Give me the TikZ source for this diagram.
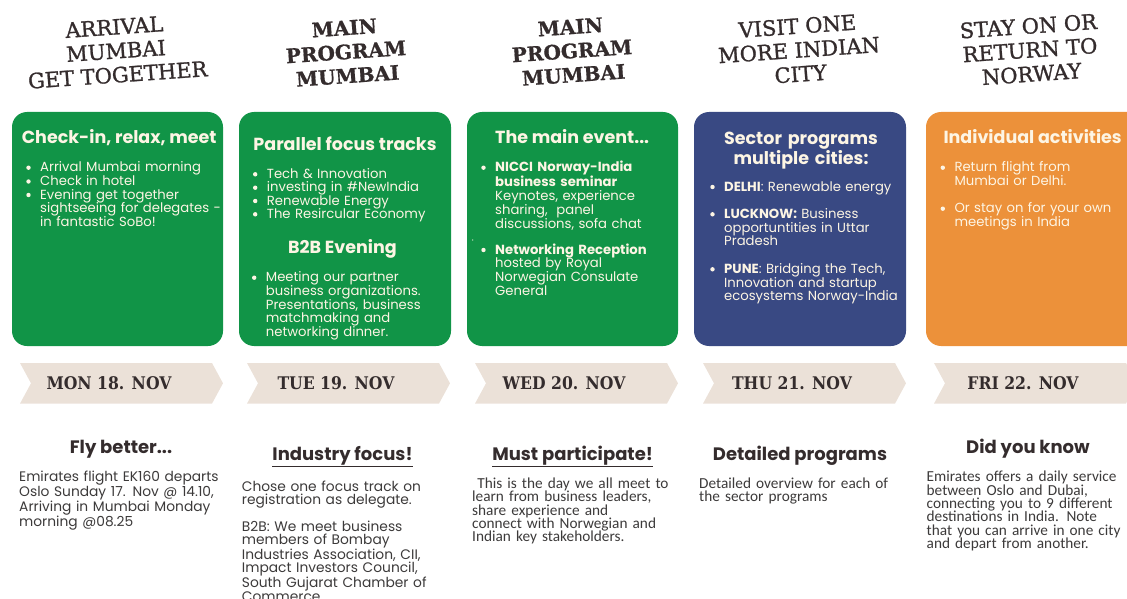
\documentclass[tikz,border=0pt]{standalone}
\usepackage{fontspec}
\setmainfont{Poppins}
\newfontfamily\slabfont[FakeBold=1.2]{DejaVu Serif}
\newfontfamily\slabbfont[FakeBold=0.8]{DejaVu Serif Bold}
\newfontfamily\slabcfont{DejaVu Serif Condensed}
\newfontfamily\humfont{Carlito}
\usetikzlibrary{positioning}
\definecolor{greencard}{RGB}{17,148,71}
\definecolor{bluecard}{RGB}{57,73,131}
\definecolor{orangecard}{RGB}{236,145,58}
\definecolor{chev}{RGB}{235,225,216}
\definecolor{cream}{RGB}{253,245,228}
\definecolor{darktxt}{RGB}{52,44,45}
\definecolor{greytxt}{RGB}{60,58,58}
\lineskiplimit=-20pt
\begin{document}
\begin{tikzpicture}[x=1pt,y=-1pt,inner sep=0pt,
    card/.style={rounded corners=15pt},
    head/.style={font=\slabfont\fontsize{21}{24}\selectfont,text=darktxt,align=center,rotate=4},
    headb/.style={head,font=\slabbfont\fontsize{20}{24}\selectfont},
    ctitle/.style={font=\bfseries\fontsize{17.5}{18}\selectfont,text=cream,anchor=base},
    cbody/.style={font=\fontsize{13.2}{13.75}\selectfont,text=cream,text width=250pt,align=left,anchor=base west},
    daytxt/.style={font=\slabcfont\bfseries\fontsize{17.4}{18}\selectfont,text=darktxt,anchor=base},
    btitle/.style={font=\bfseries\fontsize{18}{20}\selectfont,text=darktxt,anchor=base},
    bbody/.style={font=\fontsize{13.8}{13.35}\selectfont,text=greytxt,text width=250pt,align=left,anchor=base west},
    hbody/.style={font=\humfont\fontsize{15.3}{13.4}\selectfont,text=greytxt,text width=250pt,align=left,anchor=base west}]
    \useasboundingbox (0,0) rectangle (1127,599);
    \clip (0,0) rectangle (1127,599);
    % headings
    \node[head] (h1) at (116,51) {ARRIVAL\\MUMBAI\\GET TOGETHER};
    \node[headb] (h2) at (346,52) {MAIN\\PROGRAM\\MUMBAI};
    \node[headb] (h3) at (572,51) {MAIN\\PROGRAM\\MUMBAI};
    \node[head] (h4) at (799,50) {VISIT ONE\\MORE INDIAN\\CITY};
    \node[head] (h5) at (1030,50) {STAY ON OR\\RETURN TO\\NORWAY};
    % cards
    \fill[greencard,card] (12,112) rectangle (223,346);
    \fill[greencard,card] (239,112) rectangle (451,346);
    \fill[greencard,card] (467,112) rectangle (678,346);
    \fill[bluecard,card] (694,112) rectangle (906,346);
    \fill[orangecard,card] (926,112) rectangle (1150,346);
    % monday
    \node[ctitle,anchor=base west] (t1) at (21.7,144) {Check-in, relax, meet};
    \node[cbody] (c1a) at (40,171.7) {Arrival Mumbai morning};
    \node[cbody] (c1b) at (40,185.5) {Check in hotel};
    \node[cbody] (c1c) at (40,199) {Evening get together\\sightseeing for delegates -\\in fantastic SoBo!};
    % tuesday
    \node[ctitle] (t2) at (345,150) {Parallel focus tracks};
    \node[cbody] (c2a) at (266.7,178.3) {Tech \& Innovation};
    \node[cbody] (c2b) at (266.7,191.7) {investing in \#NewIndia};
    \node[cbody] (c2c) at (266.7,205) {Renewable Energy};
    \node[cbody] (c2d) at (266.7,218.3) {The Resircular Economy};
    \node[ctitle] (t2b) at (342.5,253.3) {B2B Evening};
    \node[cbody] (c2e) at (265.7,281.7) {Meeting our partner\\business organizations.\\Presentations, business\\matchmaking and\\networking dinner.};
    % wednesday
    \node[ctitle,anchor=base west] (t3) at (495,143.3) {The main event...};
    \node[cbody] (c3a) at (495,171.7) {\textbf{NICCI Norway-India}\\\textbf{business seminar}\\Keynotes, experience\\sharing,\ \ panel\\discussions, sofa chat};
    \node[cbody] (c3b) at (495,254) {\textbf{Networking Reception}\\hosted by Royal\\Norwegian Consulate\\General};
    \fill[cream] (472.7,240) circle (0.7pt);
    % thursday
    \node[ctitle,text width=200pt,align=center] (t4) at (801,144.3) {Sector programs\\multiple cities:};
    \node[cbody] (c4a) at (724,191) {\textbf{DELHI}: Renewable energy};
    \node[cbody] (c4b) at (724,218.3) {\textbf{LUCKNOW:} Business\\opportuntities in Uttar\\Pradesh};
    \node[cbody] (c4c) at (724,273.3) {\textbf{PUNE}: Bridging the Tech,\\Innovation and startup\\ecosystems Norway-India};
    % friday
    \node[ctitle,anchor=base west] (t5) at (943.3,144) {Individual activities};
    \node[cbody] (c5a) at (954.3,171.7) {Return flight from\\Mumbai or Delhi.};
    \node[cbody] (c5b) at (954.3,212.7) {Or stay on for your own\\meetings in India};
    \foreach \n in {c1a,c1b,c1c,c2a,c2b,c2c,c2d,c2e,c3a,c3b,c4a,c4b,c4c,c5a,c5b}
    \fill[cream] ([xshift=-11.5pt,yshift=4pt]\n.base west) circle (2.2pt);
    % day arrows
    \foreach \xl/\dt [count=\i] in {20/MON 18. NOV,247/TUE 19. NOV,475/WED 20. NOV,703/THU 21. NOV,934/FRI 22. NOV}{
        \fill[chev] (\xl,363) -- ++(192,0) -- ++(11,20.3) -- ++(-11,20.3) -- ++(-192,0) -- ++(11,-20.3) -- cycle;
        \node[daytxt] (d\i) at (\xl+89,389.3) {\dt};
    }
    % notes below
    \node[btitle] (b1) at (121,453.3) {Fly better...};
    \node[bbody] (b1t) at (19,481.7) {Emirates flight EK160 departs\\Oslo Sunday 17. Nov @ 14.10,\\Arriving in Mumbai Monday\\morning @08.25};
    \node[btitle] (b2) at (342.5,460) {\underline{Industry focus!}};
    \node[bbody] (b2t) at (241.7,491) {Chose one focus track on\\registration as delegate.};
    \node[bbody] (b2u) at (241.7,531) {B2B: We meet business\\members of Bombay\\Industries Association, CII,\\Impact Investors Council,\\South Gujarat Chamber of\\Commerce};
    \node[btitle] (b3) at (572.6,460) {\underline{Must participate!}};
    \node[hbody] (b3t) at (472,488.3) {\ This is the day we all meet to\\learn from business leaders,\\share experience and\\connect with Norwegian and\\Indian key stakeholders.};
    \node[btitle] (b4) at (800,460) {Detailed programs};
    \node[hbody] (b4t) at (699,488.3) {Detailed overview for each of\\the sector programs};
    \node[btitle] (b5) at (1028,453.3) {Did you know};
    \node[hbody] (b5t) at (926.5,481.7) {Emirates offers a daily service\\between Oslo and Dubai,\\connecting you to 9 different\\destinations in India. Note\\that you can arrive in one city\\and depart from another.};
\end{tikzpicture}
\end{document}
